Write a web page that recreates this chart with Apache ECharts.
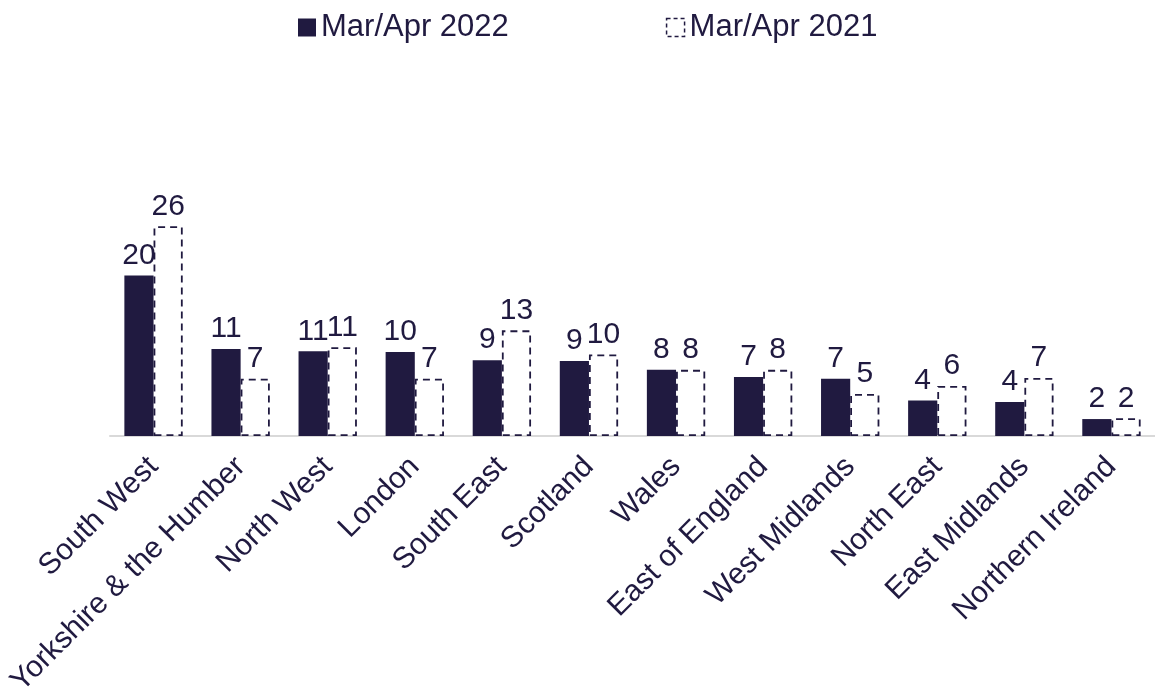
<!DOCTYPE html>
<html>
<head>
<meta charset="utf-8">
<script src="https://cdn.jsdelivr.net/npm/echarts@6/dist/echarts.min.js"></script>
<style>
  html, body { margin: 0; padding: 0; background: #fff; }
  #chart { width: 1155px; height: 688px; }
</style>
</head>
<body>
<div id="chart"></div>
<script>
var regions = ['South West', 'Yorkshire & the Humber', 'North West', 'London', 'South East',
    'Scotland', 'Wales', 'East of England', 'West Midlands', 'North East', 'East Midlands', 'Northern Ireland'];
var seriesNames = ['Mar/Apr 2022', 'Mar/Apr 2021'];
var values2022 = [19.9, 10.8, 10.5, 10.4, 9.4, 9.3, 8.2, 7.3, 7.1, 4.4, 4.2, 2.1];
var values2021 = [26.0, 7.1, 11.0, 7.1, 13.1, 10.1, 8.2, 8.2, 5.2, 6.2, 7.2, 2.2];

var navy = '#201a40';
var font = 'Liberation Sans, Arial, sans-serif';

var labelStyle = {
    show: true,
    position: 'top',
    distance: 5,
    color: navy,
    fontFamily: font,
    fontSize: 30,
    formatter: function (p) { return Math.round(p.value); }
};

var option = {
    backgroundColor: '#fff',
    animation: false,
    legend: {
        top: 7,
        left: 293,
        itemGap: 157,
        itemWidth: 18,
        itemHeight: 18,
        textStyle: { color: navy, fontFamily: font, fontSize: 31 },
        data: [
            { name: seriesNames[0], icon: 'rect' },
            {
                name: seriesNames[1], icon: 'rect',
                itemStyle: { color: '#fff', borderColor: navy, borderWidth: 1.5, borderType: [4, 3] }
            }
        ]
    },
    grid: { left: 110, right: 0, top: 194, bottom: 252, containLabel: false, outerBoundsMode: 'none' },
    xAxis: {
        type: 'category',
        data: regions,
        axisLine: { lineStyle: { color: '#d9d9d9', width: 2 } },
        axisTick: { show: false },
        axisLabel: {
            rotate: 45,
            interval: 0,
            margin: 26,
            color: navy,
            fontFamily: font,
            fontSize: 30
        }
    },
    yAxis: {
        type: 'value',
        min: 0,
        max: 30,
        show: false,
        splitLine: { show: false }
    },
    series: [
        {
            name: seriesNames[0],
            type: 'bar',
            data: values2022,
            barGap: '0%',
            barCategoryGap: '33%',
            itemStyle: { color: navy },
            label: labelStyle
        },
        {
            name: seriesNames[1],
            type: 'bar',
            data: values2021,
            itemStyle: {
                color: '#fff',
                borderColor: navy,
                borderWidth: 1.8,
                borderType: [7, 5]
            },
            label: labelStyle
        }
    ]
};

var chart = echarts.init(document.getElementById('chart'));
chart.setOption(option);
</script>
</body>
</html>
